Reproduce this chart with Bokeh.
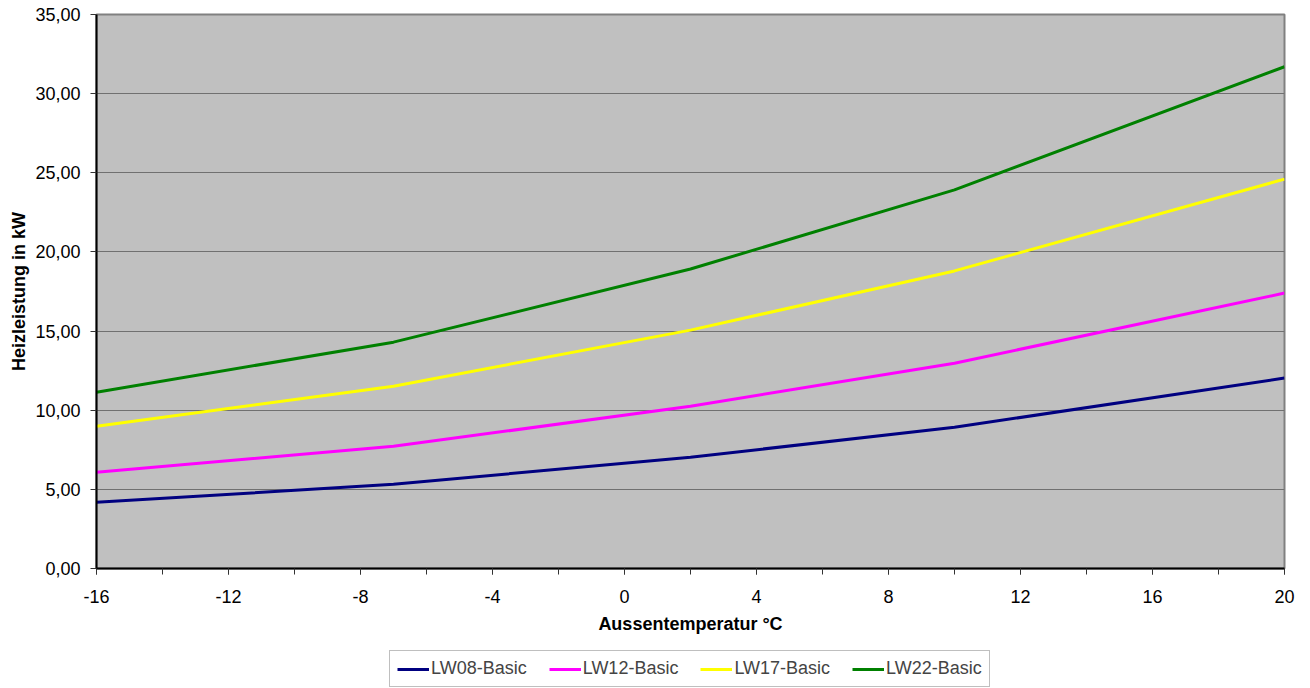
from bokeh.plotting import figure
from bokeh.layouts import column
from bokeh.models import Range1d, FixedTicker, CustomJSTickFormatter, Legend, LegendItem
from bokeh.embed import file_html
from bokeh.resources import INLINE

temps = [-16, -7, 2, 10, 20]
lw08 = [4.18, 5.32, 7.03, 8.92, 12.03]
lw12 = [6.08, 7.72, 10.25, 12.97, 17.40]
lw17 = [8.99, 11.52, 15.06, 18.80, 24.60]
lw22 = [11.14, 14.30, 18.92, 23.92, 31.70]
series_names = ["LW08-Basic", "LW12-Basic", "LW17-Basic", "LW22-Basic"]
series_vals = [lw08, lw12, lw17, lw22]
colors = ["#000080", "#FF00FF", "#FFFF00", "#008000"]
x_ticks = [-16, -12, -8, -4, 0, 4, 8, 12, 16, 20]
x_minor = [-16, -14, -12, -10, -8, -6, -4, -2, 0, 2, 4, 6, 8, 10, 12, 14, 16, 18, 20]
y_ticks = [0, 5, 10, 15, 20, 25, 30, 35]

FONT = "Liberation Sans"

p = figure(width=1300, height=641, output_backend="svg", toolbar_location=None,
           x_range=Range1d(-16, 20), y_range=Range1d(0, 35),
           min_border_left=96, min_border_top=14, min_border_right=16, min_border_bottom=73)
p.border_fill_color = "white"
p.background_fill_color = "#C0C0C0"
p.outline_line_color = "#808080"
p.outline_line_width = 2

p.xaxis.ticker = FixedTicker(ticks=x_ticks, minor_ticks=x_minor)
p.yaxis.ticker = FixedTicker(ticks=y_ticks)
p.yaxis.formatter = CustomJSTickFormatter(code="return tick.toFixed(2).replace('.', ',');")
p.xaxis.formatter = CustomJSTickFormatter(code="return String(tick);")
p.xaxis.axis_label = "Aussentemperatur °C"
p.yaxis.axis_label = "Heizleistung in kW"
for ax in (p.xaxis, p.yaxis):
    ax.axis_line_color = "black"
    ax.axis_line_width = 2
    ax.major_tick_line_color = "#333333"
    ax.major_tick_out = 6
    ax.major_tick_in = 0
    ax.minor_tick_out = 6
    ax.minor_tick_in = 0
    ax.minor_tick_line_color = "#333333"
    ax.major_label_text_font = FONT
    ax.major_label_text_font_size = "18px"
    ax.major_label_text_color = "black"
    ax.axis_label_text_font = FONT
    ax.axis_label_text_font_size = "18px"
    ax.axis_label_text_font_style = "bold"
    ax.axis_label_text_color = "black"
p.yaxis.minor_tick_line_color = None
p.xaxis.major_label_standoff = 15
p.xaxis.axis_label_standoff = 8
p.yaxis.major_label_standoff = 10
p.yaxis.axis_label_standoff = 3

p.xgrid.grid_line_color = None
p.ygrid.grid_line_color = "#707070"
p.ygrid.grid_line_width = 1

for vals, c in zip(series_vals, colors):
    p.line(temps, vals, line_color=c, line_width=3)

# legend strip below the chart
lg = figure(width=1300, height=46, output_backend="svg", toolbar_location=None,
            x_range=Range1d(-16, 20), y_range=Range1d(100, 101),
            x_axis_type=None, y_axis_type=None,
            min_border_left=0, min_border_top=0, min_border_right=0, min_border_bottom=0)
lg.outline_line_color = None
lg.background_fill_color = "white"
lg.border_fill_color = "white"
lg.xgrid.grid_line_color = None
lg.ygrid.grid_line_color = None

items = []
for name, vals, c in zip(series_names, series_vals, colors):
    r = lg.line(temps, vals, line_color=c, line_width=3)
    items.append(LegendItem(label=name, renderers=[r]))

legend = Legend(items=items, orientation="horizontal", location=(293, 0),
                label_text_font=FONT, label_text_font_size="18px",
                border_line_color="#808080", border_line_width=1,
                background_fill_color="white",
                glyph_width=32, glyph_height=16, label_standoff=2, spacing=22,
                padding=7, margin=0)
lg.add_layout(legend, "center")

open("out.html", "w").write(file_html(column(p, lg, spacing=0), INLINE))
